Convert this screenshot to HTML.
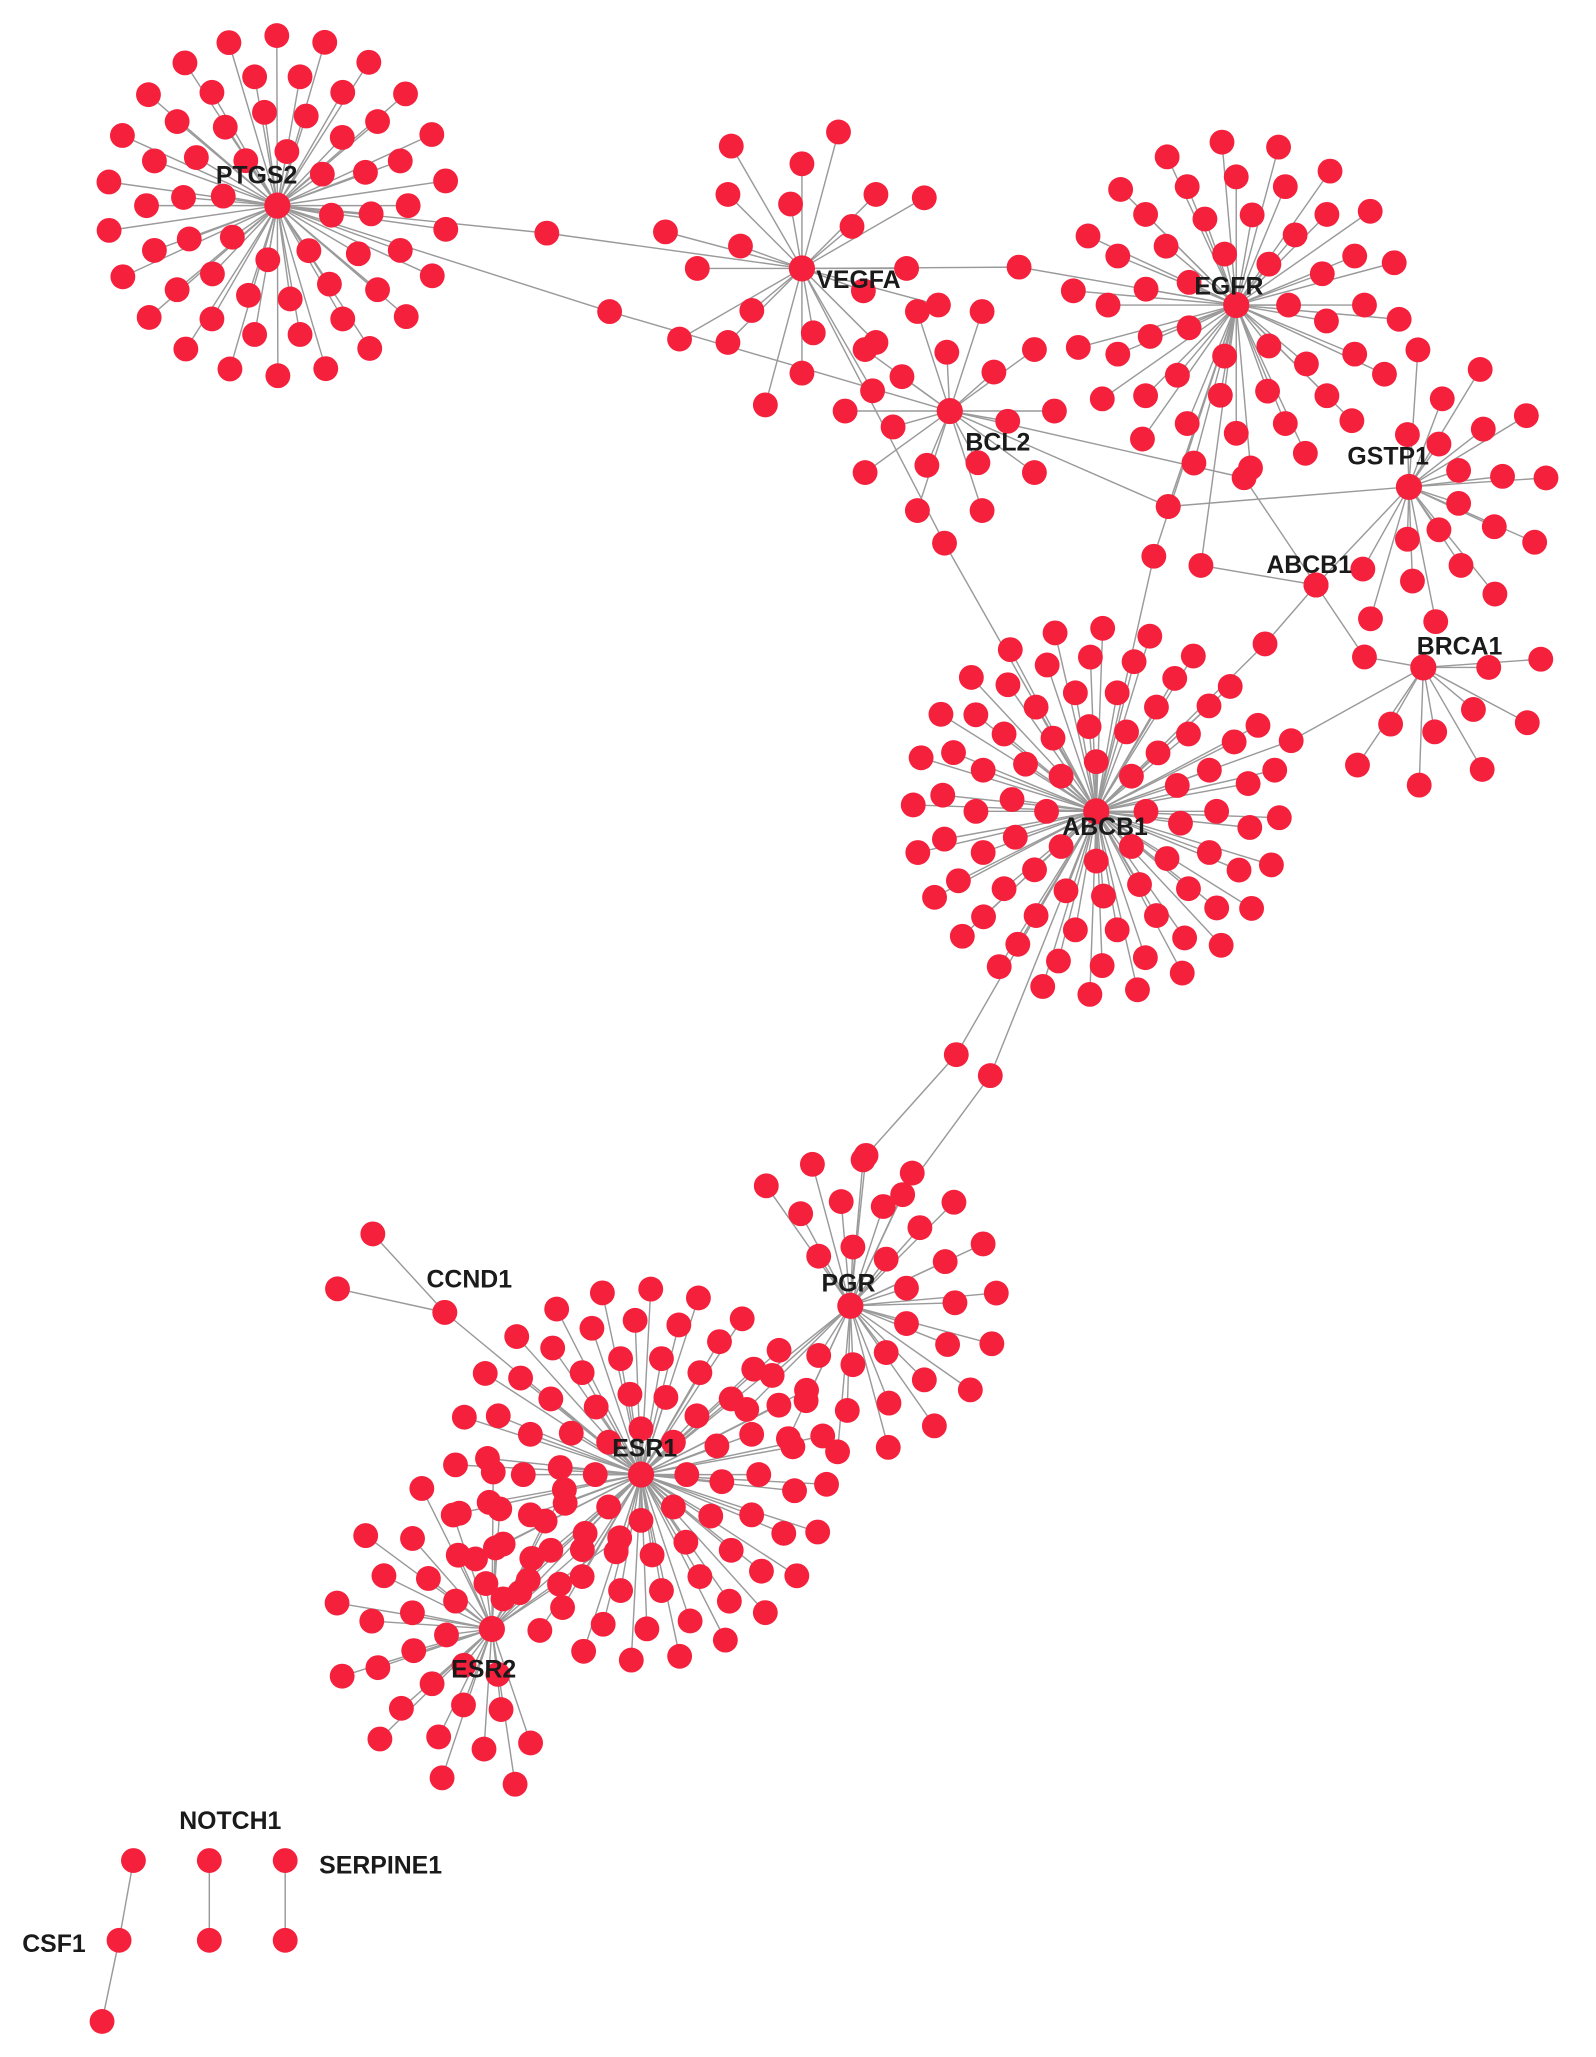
<!DOCTYPE html>
<html><head><meta charset="utf-8"><style>html,body{margin:0;padding:0;background:#fff}svg{display:block}</style></head>
<body>
<svg id="s" width="1596" height="2057" viewBox="0 0 1220 1572" xmlns="http://www.w3.org/2000/svg">
<g id="E" stroke="#9a9a9a" stroke-width="1.1"></g>
<g id="N" fill="#f5203c"></g>
<g font-family="Liberation Sans, sans-serif" font-weight="bold" font-size="19" fill="#1a1a1a">
<text x="165" y="140">PTGS2</text>
<text x="624" y="220">VEGFA</text>
<text x="913" y="225">EGFR</text>
<text x="738" y="344">BCL2</text>
<text x="1030" y="355">GSTP1</text>
<text x="968" y="438">ABCB1</text>
<text x="1083" y="500">BRCA1</text>
<text x="812" y="638">ABCB1</text>
<text x="628" y="987">PGR</text>
<text x="326" y="984">CCND1</text>
<text x="468" y="1113">ESR1</text>
<text x="345" y="1282">ESR2</text>
<text x="137" y="1398">NOTCH1</text>
<text x="244" y="1432">SERPINE1</text>
<text x="17" y="1492">CSF1</text>
</g>
</svg>
<script>
var E=document.getElementById('E'),N=document.getElementById('N'),ns='http://www.w3.org/2000/svg';
function line(a,b,c,d){var l=document.createElementNS(ns,'line');l.setAttribute('x1',a);l.setAttribute('y1',b);l.setAttribute('x2',c);l.setAttribute('y2',d);E.appendChild(l);}
function dot(x,y,r){var c=document.createElementNS(ns,'circle');c.setAttribute('cx',x);c.setAttribute('cy',y);c.setAttribute('r',r||9.5);N.appendChild(c);}
function cluster(cx,cy,rings,a0,a1){a0=a0===undefined?0:a0;a1=a1===undefined?360:a1;
 rings.forEach(function(rg,i){var r=rg[0],n=rg[1],off=rg[2]||0;
  for(var k=0;k<n;k++){var span=a1-a0;var t=(a0+ (span>=360? k*span/n : (k+0.5)*span/n) +off)*Math.PI/180;
   var x=cx+r*Math.cos(t),y=cy+r*Math.sin(t);line(cx,cy,x,y);dot(x,y);}});
 dot(cx,cy,10);}
function link(p){for(var i=0;i<p.length-1;i++)line(p[i][0],p[i][1],p[i+1][0],p[i+1][1]);p.forEach(function(q,i){dot(q[0],q[1]);});}
// connectors
link([[212,157],[418,178],[613,205]]);
link([[212,157],[466,238],[726,314]]);
link([[613,205],[779,204],[945,233]]);
link([[613,205],[722,415],[838,620]]);
link([[945,233],[893,387],[1077,372]]);
link([[945,233],[882,425],[838,620]]);
link([[945,233],[918,432],[1006,447]]);
link([[726,314],[951,365],[1006,447]]);
link([[726,314],[893,387]]);
link([[1006,447],[967,492],[838,620]]);
link([[1006,447],[1043,502],[1088,510]]);
link([[1077,372],[1006,447]]);
link([[838,620],[987,566],[1088,510]]);
link([[838,620],[731,806],[662,883],[650,998]]);
link([[838,620],[757,822],[690,913],[650,998]]);
link([[650,998],[490,1127]]);
link([[490,1127],[340,1003],[258,985]]);
link([[340,1003],[285,943]]);
link([[490,1127],[376,1245]]);
link([[102,1422],[91,1483],[78,1545]]);
link([[160,1422],[160,1483]]);
link([[218,1422],[218,1483]]);
// clusters
cluster(212,157,[[42,8,10],[72,14,5],[100,18,0],[130,22,8]]);
cluster(613,205,[[50,6,20],[80,8,0],[108,8,15]]);
cluster(945,233,[[40,7,0],[70,12,10],[98,16,0],[125,18,5]]);
cluster(726,314,[[45,7,10],[80,10,0]]);
cluster(1077,372,[[40,6,0],[72,7,25],[105,8,10]],-110,110);
cluster(1088,510,[[50,4,0],[90,5,0]],-20,140);
cluster(838,620,[[38,8,0],[65,14,8],[92,18,0],[118,22,6],[140,24,2]]);
cluster(650,998,[[45,8,0],[80,12,10],[112,14,5]],-140,140);
cluster(490,1127,[[35,8,0],[62,14,5],[90,18,0],[118,22,6],[142,24,3]]);
cluster(376,1245,[[35,6,0],[62,10,10],[92,12,0],[120,10,8]],-300,-30);
</script>
</body></html>
